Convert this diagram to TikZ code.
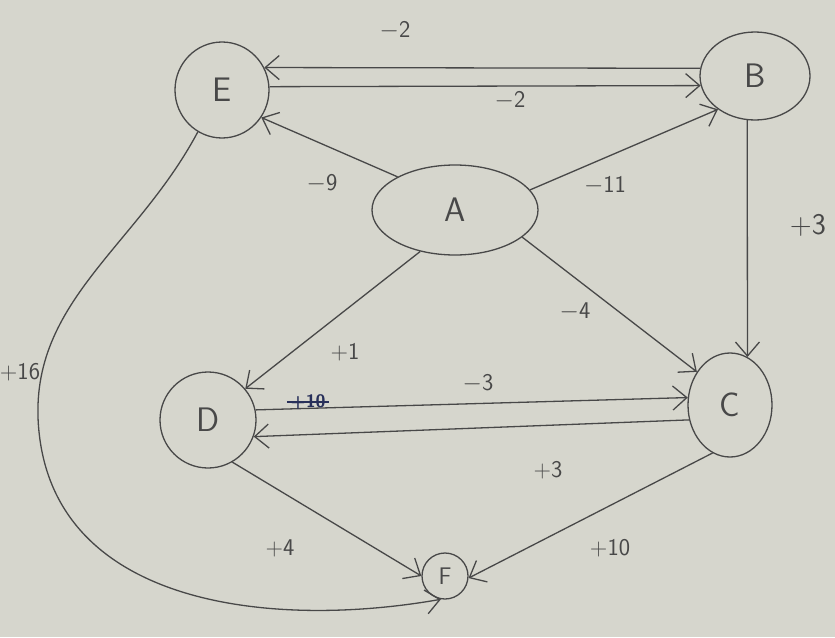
\documentclass[tikz,border=0pt]{standalone}
\usetikzlibrary{shapes.geometric,arrows.meta}
\definecolor{paper}{RGB}{214,214,205}
\definecolor{pencil}{RGB}{72,72,72}
\definecolor{ink}{RGB}{40,48,90}
\begin{document}
\begin{tikzpicture}[x=1pt,y=-1pt,
  vtx/.style={ellipse,draw=pencil,line width=1.3pt,inner sep=0pt,text=pencil,font=\sffamily\fontsize{34}{36}\selectfont},
  conn/.style={draw=pencil,line width=1.3pt,-{Straight Barb[length=14pt,width=24pt,line width=1.3pt]}},
  lbl/.style={text=pencil,font=\sffamily\fontsize{24}{26}\selectfont}]
\fill[paper] (0,0) rectangle (835,637);
\useasboundingbox (0,0) rectangle (835,637);
\node[vtx,minimum width=94pt,minimum height=96pt] (E) at (222,90) {E};
\node[vtx,minimum width=110pt,minimum height=88pt] (B) at (755,76) {B};
\node[vtx,minimum width=166pt,minimum height=90pt] (A) at (455,210) {A};
\node[vtx,minimum width=84pt,minimum height=104pt] (C) at (730,405) {C};
\node[vtx,minimum width=96pt,minimum height=96pt] (D) at (208,420) {D};
\node[vtx,minimum width=46pt,minimum height=46pt,font=\sffamily\fontsize{24}{26}\selectfont] (F) at (445,576) {F};
% edges
\draw[conn] (B.172) -- (E.28);
\draw[conn] (E.4) -- (B.190);
\draw[conn] (A.150) -- (E.-35);
\draw[conn] (A.15) -- (B.222);
\draw[conn] (B.-100) -- (C.70);
\draw[conn] (A.-22) -- (C.135);
\draw[conn] (A.-130) -- (D.40);
\draw[conn] (D.12) -- (C.170);
\draw[conn] (C.-160) -- (D.-20);
\draw[conn] (D.-60) -- (F.180);
\draw[conn] (C.-110) -- (F.-5);
\coordinate (bend) at (40,440);
\draw[conn] (E.-120) to[out=-118,in=98] (bend) to[out=-82,in=190] (F.-100);
% labels
\node[lbl] (lEB1) at (395,30) {$-$2};
\node[lbl] (lEB2) at (510,100) {$-$2};
\node[lbl] (lAE) at (322,183) {$-$9};
\node[lbl] (lAB) at (605,185) {$-$11};
\node[lbl,font=\sffamily\fontsize{30}{32}\selectfont] (lBC) at (808,225) {+3};
\node[lbl] (lAC) at (575,312) {$-$4};
\node[lbl] (lAD) at (345,352) {+1};
\node[lbl] (lDC) at (478,383) {$-$3};
\node[lbl] (lCD) at (548,470) {+3};
\node[lbl] (lDF) at (280,548) {+4};
\node[lbl] (lCF) at (610,548) {+10};
\node[lbl,inner sep=1pt] (lEF) at (20,372) {+16};
\node[text=ink,font=\sffamily\bfseries\fontsize{18}{20}\selectfont] (scr) at (308,402) {+10};
\draw[ink,line width=2pt] (scr.west) -- (scr.east);
\end{tikzpicture}
\end{document}
